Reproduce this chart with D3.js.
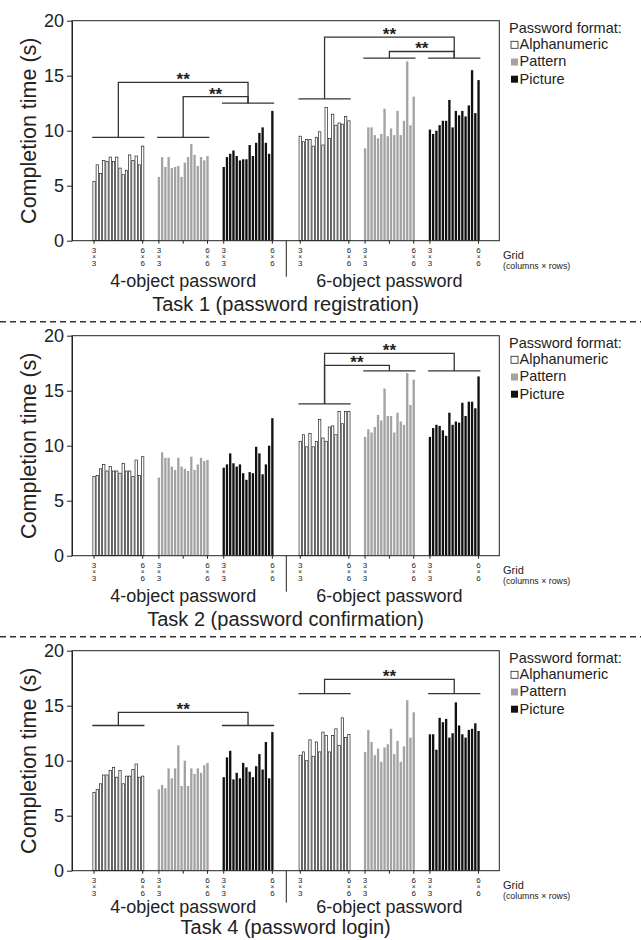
<!DOCTYPE html>
<html>
<head>
<meta charset="utf-8">
<script src="https://cdn.jsdelivr.net/npm/d3@7/dist/d3.min.js"></script>
<style>
  body { margin: 0; background: #fff; }
  text { font-family: "Liberation Sans", Arial, sans-serif; fill: #222; }
</style>
</head>
<body>
<svg id="chart" width="641" height="940"></svg>
<script>
// ---- data (completion time in seconds, grid 3x3 ... 6x6) ----
const formats = ["Alphanumeric", "Pattern", "Picture"];
const formatFill = ["#ffffff", "#a3a3a3", "#111111"];
const objectLabels = ["4-object password", "6-object password"];
const gridFirst = ["3", "×", "3"];
const gridLast = ["6", "×", "6"];
const yTicks = [0, 5, 10, 15, 20];
const taskTitles = ["Task 1 (password registration)", "Task 2 (password confirmation)", "Task 4 (password login)"];

const t1Alpha4 = [5.4, 6.9, 6.1, 7.3, 7.2, 7.6, 7.2, 7.6, 6.6, 6.0, 6.4, 7.8, 7.3, 7.7, 6.9, 8.6];
const t1Pattern4 = [5.8, 7.6, 6.7, 7.6, 6.6, 6.7, 6.8, 5.8, 7.1, 7.6, 8.8, 7.8, 6.8, 7.6, 7.3, 7.7];
const t1Picture4 = [6.7, 7.6, 7.9, 8.2, 7.7, 7.3, 7.4, 7.4, 8.7, 7.7, 8.9, 9.8, 10.3, 8.9, 7.9, 11.8];
const t1Alpha6 = [9.5, 9.0, 9.2, 9.2, 8.6, 9.4, 9.9, 8.7, 12.1, 9.3, 11.5, 10.5, 10.7, 10.6, 11.3, 10.9];
const t1Pattern6 = [8.4, 10.3, 10.3, 9.6, 9.3, 9.7, 12.0, 9.5, 10.2, 9.6, 11.8, 9.6, 10.9, 16.3, 10.5, 13.1];
const t1Picture6 = [10.1, 9.7, 10.0, 10.5, 10.9, 10.9, 12.8, 10.3, 11.8, 11.4, 11.8, 11.3, 12.3, 15.5, 11.6, 14.6];

const t2Alpha4 = [7.2, 7.3, 7.9, 8.3, 7.7, 8.1, 7.7, 7.7, 7.5, 8.4, 7.7, 7.7, 7.2, 8.7, 7.3, 9.0];
const t2Pattern4 = [7.1, 9.4, 8.9, 8.9, 8.1, 7.8, 8.9, 8.1, 7.9, 7.7, 9.0, 7.8, 8.3, 8.9, 8.6, 8.7];
const t2Picture4 = [8.0, 8.3, 9.3, 8.4, 8.1, 8.3, 7.5, 6.9, 7.6, 7.5, 9.9, 9.3, 7.4, 8.3, 10.0, 12.5];
const t2Alpha6 = [10.4, 11.0, 9.9, 11.1, 9.9, 10.4, 12.4, 10.7, 10.4, 11.7, 11.8, 11.0, 13.1, 12.0, 13.1, 13.1];
const t2Pattern6 = [10.8, 11.5, 11.2, 11.7, 12.8, 12.3, 15.2, 12.7, 12.7, 11.2, 13.0, 12.2, 11.9, 16.6, 13.7, 16.0];
const t2Picture6 = [10.8, 11.6, 11.9, 11.8, 11.4, 10.9, 13.0, 11.9, 12.2, 12.1, 13.9, 12.7, 14.0, 14.0, 13.4, 16.3];

const t4Alpha4 = [7.1, 7.4, 7.9, 8.7, 8.7, 9.1, 9.4, 8.5, 9.1, 7.9, 8.6, 8.6, 9.2, 9.7, 8.5, 8.6];
const t4Pattern4 = [7.4, 7.8, 7.5, 9.3, 8.4, 9.3, 11.4, 7.7, 10.0, 7.7, 9.3, 8.8, 9.3, 8.9, 9.6, 9.8];
const t4Picture4 = [8.5, 10.3, 10.9, 8.3, 8.9, 8.4, 9.8, 9.4, 9.0, 8.5, 9.5, 10.6, 9.2, 11.7, 8.4, 12.6];
const t4Alpha6 = [10.5, 10.8, 10.0, 11.9, 10.4, 11.7, 10.8, 12.6, 12.3, 10.8, 12.3, 12.9, 11.4, 13.9, 12.1, 12.4];
const t4Pattern6 = [10.8, 12.8, 11.7, 10.5, 11.1, 9.9, 11.2, 11.5, 12.9, 10.6, 11.8, 9.9, 11.3, 15.5, 12.1, 14.4];
const t4Picture6 = [12.4, 12.4, 11.0, 13.9, 13.5, 13.8, 12.1, 12.5, 15.3, 13.2, 12.4, 12.1, 12.8, 12.9, 13.4, 12.7];

// significance brackets: [group, level] and [fromGroup, toGroup, level]
const t1GroupLines = [[0, 9.4], [1, 9.4], [2, 12.5], [3, 12.9], [4, 16.6], [5, 16.6]];
const t1Links = [[0, 2, 14.4], [1, 2, 13.1], [3, 5, 18.5], [4, 5, 17.2]];
const t2GroupLines = [[3, 13.8], [4, 16.8], [5, 16.8]];
const t2Links = [[3, 5, 18.4], [3, 4, 17.3]];
const t4GroupLines = [[0, 13.2], [2, 13.2], [3, 16.1], [5, 16.1]];
const t4Links = [[0, 2, 14.4], [3, 5, 17.4]];

const tasks = [
  { title: taskTitles[0], groups: [t1Alpha4, t1Pattern4, t1Picture4, t1Alpha6, t1Pattern6, t1Picture6], lines: t1GroupLines, links: t1Links },
  { title: taskTitles[1], groups: [t2Alpha4, t2Pattern4, t2Picture4, t2Alpha6, t2Pattern6, t2Picture6], lines: t2GroupLines, links: t2Links },
  { title: taskTitles[2], groups: [t4Alpha4, t4Pattern4, t4Picture4, t4Alpha6, t4Pattern6, t4Picture6], lines: t4GroupLines, links: t4Links },
];

// ---- layout ----
const svg = d3.select("#chart");
const panelTop = 20.7, panelStep = 315;
const plotH = 220, plotL = 72, plotR = 499.3;
const groupStart = [0, 20, 40, 63.6, 83.6, 103.6];
const divider = (groupStart[2] + 15 + groupStart[3]) / 2;
// last panel sits tighter against the bottom edge
const objLabelOffset = [46, 46, 42];
const titleOffset = [70, 70, 63];

const x = d3.scaleLinear().domain([-6.8, 125]).range([plotL, plotR]);
const y = d3.scaleLinear().domain([0, 20]).range([plotH, 0]);
const pitch = x(1) - x(0);
const barW = pitch * 0.72;
const center = (g) => x(groupStart[g] + 7.5);
const ink = "#222";

// dashed separators between panels
[1, 2].forEach((k) => {
  svg.append("line")
    .attr("x1", 0).attr("x2", 641)
    .attr("y1", panelTop + panelStep * k - 14).attr("y2", panelTop + panelStep * k - 14)
    .attr("stroke", "#333").attr("stroke-width", 1.4)
    .attr("stroke-dasharray", "6,4");
});

tasks.forEach((task, t) => {
  const g = svg.append("g").attr("transform", `translate(0,${panelTop + panelStep * t})`);

  // bars
  task.groups.forEach((vals, gi) => {
    const f = gi % 3;
    g.append("g").selectAll("rect").data(vals).join("rect")
      .attr("x", (d, i) => x(groupStart[gi] + i) - barW / 2)
      .attr("y", (d) => y(d))
      .attr("width", barW)
      .attr("height", (d) => y(0) - y(d))
      .attr("fill", formatFill[f])
      .attr("stroke", f === 0 ? ink : "none")
      .attr("stroke-width", 0.7);
  });

  // frame
  g.append("rect")
    .attr("x", plotL).attr("y", 0)
    .attr("width", plotR - plotL).attr("height", plotH)
    .attr("fill", "none").attr("stroke", ink).attr("stroke-width", 1);

  // y axis
  const ya = g.append("g").attr("transform", `translate(${plotL},0)`)
    .call(d3.axisLeft(y).tickValues(yTicks).tickSize(5).tickSizeOuter(0).tickPadding(3));
  ya.select(".domain").attr("stroke", ink);
  ya.selectAll(".tick line").attr("stroke", ink);
  ya.selectAll(".tick text").attr("font-size", 18).attr("fill", ink)
    .style("font-family", '"Liberation Sans", Arial, sans-serif');

  g.append("text")
    .attr("transform", `translate(28,${plotH / 2}) rotate(-90)`)
    .attr("text-anchor", "middle").attr("dy", "0.35em")
    .attr("font-size", 21.5)
    .text("Completion time (s)");

  // x ticks and grid labels
  groupStart.forEach((s, gi) => {
    const ticks = [[s, gridFirst], [s + 15, gridLast]];
    ticks.forEach(([slot, lab]) => {
      const tx = x(slot);
      g.append("line").attr("x1", tx).attr("x2", tx)
        .attr("y1", plotH).attr("y2", plotH + 3).attr("stroke", ink);
      lab.forEach((ch, k) => {
        g.append("text").attr("x", tx).attr("y", plotH + 12 + k * 6.5)
          .attr("text-anchor", "middle").attr("font-size", ch === "×" ? 6.5 : 8)
          .text(ch);
      });
    });
    if (gi % 3 === 1) {
      const mx = x(s + 7.5);
      g.append("line").attr("x1", mx).attr("x2", mx)
        .attr("y1", plotH).attr("y2", plotH + 3).attr("stroke", ink);
    }
  });

  g.append("text").attr("x", 503).attr("y", plotH + 18).attr("font-size", 11).text("Grid");
  g.append("text").attr("x", 503).attr("y", plotH + 28).attr("font-size", 8.8).text("(columns × rows)");

  // object-count labels and divider
  g.append("line").attr("x1", x(divider)).attr("x2", x(divider))
    .attr("y1", plotH).attr("y2", plotH + objLabelOffset[t] - 10).attr("stroke", ink);
  objectLabels.forEach((lab, k) => {
    g.append("text")
      .attr("x", (center(k * 3) + center(k * 3 + 2)) / 2)
      .attr("y", plotH + objLabelOffset[t]).attr("text-anchor", "middle")
      .attr("font-size", 18).text(lab);
  });
  g.append("text").attr("x", (plotL + plotR) / 2).attr("y", plotH + titleOffset[t])
    .attr("text-anchor", "middle").attr("font-size", 20).text(task.title);

  // significance brackets
  const half = pitch * 0.55;
  const levelOf = {};
  task.lines.forEach(([gi, lv]) => {
    levelOf[gi] = lv;
    g.append("line")
      .attr("x1", x(groupStart[gi]) - half).attr("x2", x(groupStart[gi] + 15) + half)
      .attr("y1", y(lv)).attr("y2", y(lv))
      .attr("stroke", "#333").attr("stroke-width", 1.3);
  });
  task.links.forEach(([a, b, lv]) => {
    const path = d3.path();
    path.moveTo(center(a), y(levelOf[a]));
    path.lineTo(center(a), y(lv));
    path.lineTo(center(b), y(lv));
    path.lineTo(center(b), y(levelOf[b]));
    g.append("path").attr("d", path.toString())
      .attr("fill", "none").attr("stroke", "#333").attr("stroke-width", 1.3);
    g.append("text")
      .attr("x", (center(a) + center(b)) / 2).attr("y", y(lv) + 3)
      .attr("text-anchor", "middle").attr("font-size", 17).attr("font-weight", "bold")
      .text("**");
  });

  // legend
  const lg = g.append("g").attr("transform", "translate(509,0)");
  lg.append("text").attr("x", 0).attr("y", 12.3).attr("font-size", 14.5).text("Password format:");
  formats.forEach((name, k) => {
    const by = 28.6 + k * 17.2;
    lg.append("rect").attr("x", 2).attr("y", by - 8).attr("width", 7).attr("height", 7)
      .attr("fill", formatFill[k]).attr("stroke", k === 0 ? ink : "none").attr("stroke-width", 0.8);
    lg.append("text").attr("x", 10.5).attr("y", by).attr("font-size", 14.5).text(name);
  });
});
</script>
</body>
</html>
